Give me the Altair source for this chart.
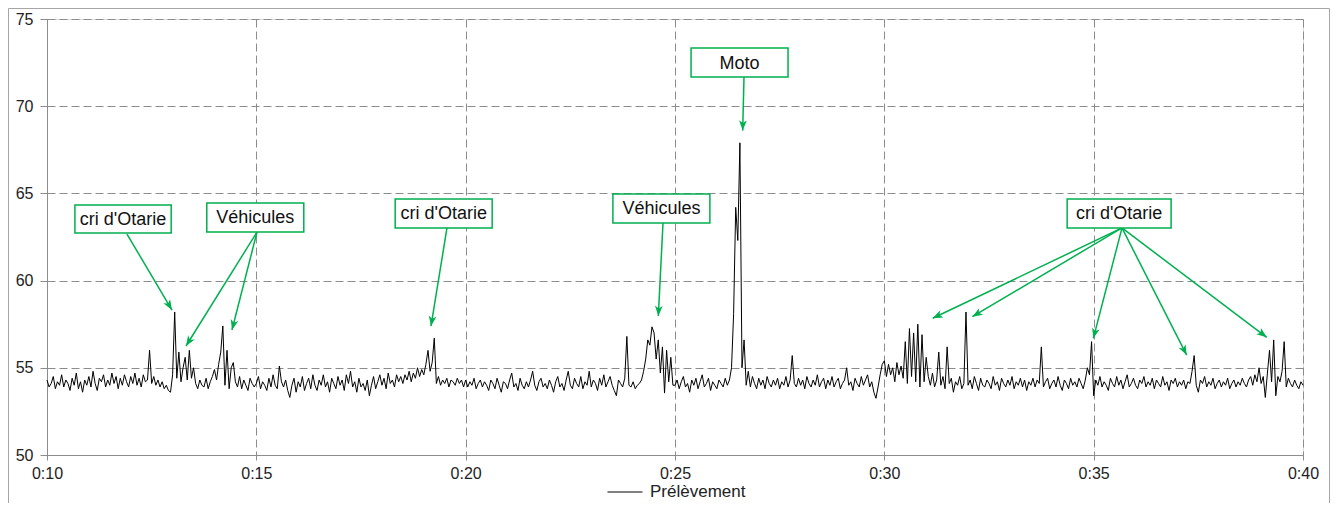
import math
import altair as alt
import pandas as pd

# ---------------- data (sampling every 3 s, time in seconds) ----------------
T_START = 600
STEP = 3

block_10_15 = [
    54.3, 53.9, 54.1, 54.5, 53.8, 54.2, 54.0, 54.6, 53.9, 54.3,
    54.1, 53.7, 54.4, 54.0, 54.7, 53.8, 54.2, 53.6, 54.3, 54.0,
    54.5, 53.9, 54.8, 54.1, 53.7, 54.4, 54.2, 54.6, 53.9, 54.3,
    54.0, 54.7, 54.1, 54.5, 53.8, 54.4, 54.0, 54.6, 54.2, 53.9,
    54.5, 54.1, 54.7, 54.0, 54.4, 53.9, 54.6, 54.2, 54.3, 56.0,
    54.1, 54.5, 54.0, 54.3, 53.9, 54.2, 53.8, 54.0, 53.7, 53.6,
    54.6, 58.2, 54.4, 55.9, 54.2, 55.0, 55.6, 54.3, 56.0, 54.4,
    55.0, 54.1, 53.8, 54.3, 54.0, 53.9, 54.4, 53.8, 54.2, 54.5,
    54.9, 54.3, 55.2, 55.9, 57.4, 54.0, 56.0, 53.8, 55.0, 55.3,
    54.2, 53.9, 54.5, 53.8, 54.3, 54.0, 53.7, 54.4, 54.1, 53.9,
]
block_15_20 = [
    54.1, 54.5, 53.8, 54.2, 54.0, 53.7, 54.4, 53.9, 54.6, 54.0,
    53.8, 55.1, 54.2, 53.9, 54.3, 53.7, 53.3, 54.0, 54.4, 53.6,
    54.2, 53.9, 54.5, 53.7, 54.1, 54.4, 53.8, 54.6, 54.0, 53.7,
    54.3, 54.0, 54.6, 53.9, 54.2, 53.6, 54.4, 54.1, 53.8, 54.5,
    54.0, 54.3, 53.7, 54.6, 54.1, 54.8, 53.9, 54.2, 53.6, 54.4,
    53.9, 54.1, 53.7, 54.3, 53.4, 54.0, 54.5, 53.8, 54.2, 54.6,
    54.0, 54.4, 53.8, 54.7, 54.1, 54.3, 53.9, 54.6, 54.2, 54.5,
    54.1, 54.6, 54.3, 54.8, 54.2, 54.7, 54.4, 55.0, 54.5, 54.9,
    54.6, 55.2, 56.0, 54.8, 55.3, 56.7, 54.1, 54.5, 54.0, 54.3,
    54.1, 54.4, 53.9, 54.3, 54.2, 54.0, 54.4, 54.1, 54.3, 53.9,
]
block_20_25 = [
    54.3, 53.9, 54.2, 54.0, 54.4, 53.8, 54.1, 54.3, 53.9, 54.2,
    54.0, 53.7, 54.3, 54.1, 53.8, 54.4, 54.0, 53.6, 54.2, 54.1,
    53.8, 54.3, 54.7, 53.9, 54.1, 53.7, 54.4, 54.0, 53.8, 54.2,
    53.9, 54.3, 54.8, 54.0, 53.7, 54.2, 54.4, 53.9, 54.1, 53.8,
    54.3, 54.0, 53.6, 54.2, 54.5, 53.9, 54.1, 53.7, 54.3, 54.8,
    54.0, 53.8, 54.4, 54.1, 53.9, 54.5, 53.8, 54.2, 54.0, 54.8,
    53.9, 54.3, 54.1, 53.7, 54.4, 54.0, 54.6, 53.9, 54.2, 54.5,
    54.0, 53.7, 53.4, 54.3, 54.1, 53.9, 54.4, 56.8, 54.0, 53.9,
    54.2, 53.8, 54.0, 54.1, 54.3, 54.8, 55.5, 56.6, 56.3, 57.35,
    57.0, 55.5, 56.6, 54.7, 56.2, 53.55, 56.0, 54.2, 55.6, 54.0,
]
block_25_30 = [
    54.0, 54.3, 53.8, 54.2, 54.5, 53.9, 54.1, 53.6, 54.3, 54.0,
    54.4, 53.8, 54.2, 54.6, 53.9, 54.1, 54.4, 53.7, 54.2, 54.0,
    53.8, 54.3, 54.1, 53.9, 54.4, 54.0, 54.3, 55.0, 58.1, 64.2,
    62.3, 67.9, 55.0, 56.6, 54.0, 54.8, 53.9, 54.5, 54.1, 53.8,
    54.4, 54.0, 54.3, 53.8, 54.5, 54.1, 53.9, 54.3, 54.0, 54.4,
    53.8, 54.2, 54.0, 54.5, 53.9, 54.3, 55.7, 54.1, 53.9, 54.4,
    54.0, 54.3, 53.8, 54.5, 54.1, 53.9, 54.3, 54.0, 54.6, 53.9,
    54.2, 54.4, 53.8, 54.3, 54.0, 54.5, 53.9, 54.2, 54.4, 53.8,
    54.1, 54.3, 55.0, 54.0, 54.2, 53.7, 54.4, 54.1, 53.9, 54.5,
    54.0, 54.3, 54.6, 53.9, 54.2, 53.6, 53.25, 53.9, 54.6, 55.2,
]
block_30_35 = [
    55.4, 54.5, 55.2, 54.6, 55.0, 54.2, 55.3, 54.6, 55.1, 54.4,
    56.5, 54.1, 57.25, 54.5, 57.0, 54.2, 57.5, 53.9, 56.9, 54.2,
    55.6, 54.5, 54.0, 54.7, 53.9, 54.3, 55.9, 54.0, 54.5, 53.8,
    56.2, 54.1, 54.4, 53.6, 54.2, 54.0, 54.5, 53.8, 54.1, 58.2,
    54.0, 54.3, 53.8, 54.5, 54.1, 53.7, 54.4, 54.0, 53.9, 54.3,
    54.1, 53.8, 54.5, 54.0, 54.2, 53.7, 54.4, 54.1, 53.9, 54.3,
    54.0, 54.5, 53.8, 54.2, 54.0, 54.4, 53.9, 54.3, 53.7, 54.2,
    54.0, 54.4, 53.9, 54.3, 54.1, 56.2, 53.9, 54.2, 54.4, 53.8,
    54.1, 54.3, 53.9, 54.5, 54.0, 53.7, 54.3, 54.1, 53.8, 54.4,
    54.0, 54.2, 53.9, 54.4, 54.1, 53.8, 54.3, 55.0, 54.6, 56.5,
]
block_35_40 = [
    53.4, 54.3, 54.0, 54.5, 53.9, 54.2, 54.0, 53.7, 54.4, 54.1,
    53.9, 54.5, 54.0, 54.3, 53.8, 54.2, 54.6, 53.9, 54.1, 54.4,
    54.0, 53.8, 54.3, 54.1, 54.5, 53.9, 54.2, 54.0, 54.4, 53.8,
    54.3, 54.1, 53.9, 54.5, 54.0, 54.2, 53.7, 54.3, 54.1, 54.4,
    53.9, 54.2, 54.0, 54.3, 53.8, 54.2, 54.1, 54.8, 55.7, 54.0,
    53.6, 54.3, 54.1, 54.5, 53.9, 54.2, 54.0, 54.4, 53.8, 54.1,
    54.3, 53.9, 54.2, 54.0, 54.4, 53.8, 54.1, 54.3, 53.9, 54.2,
    54.0, 54.4, 54.1, 53.9, 54.3, 54.5, 54.0, 54.6, 54.2, 55.0,
    54.1, 54.5, 53.3, 54.7, 56.0, 54.2, 56.6, 53.4, 54.5, 54.2,
    54.8, 56.5, 53.9, 54.4, 54.1, 53.9, 54.3, 54.0, 53.8, 54.2,
]
last_value = [54.0]

series_name = "Prélèvement"

# annotation boxes (data coordinates: seconds / level)
box_labels = ["cri d'Otarie", "Véhicules", "cri d'Otarie", "Véhicules", "Moto", "cri d'Otarie"]
box_t0 = [640, 829, 1099, 1411, 1523, 2062]
box_t1 = [778, 968, 1238, 1550, 1662, 2211]
box_v_top = [64.33, 64.45, 64.68, 64.97, 73.34, 64.68]
box_v_bottom = [62.73, 62.79, 63.02, 63.30, 71.67, 63.02]

# arrows: from the box to the event
arrow_t_from = [714.6, 901.0, 901.0, 1173.2, 1482.8, 1598.9, 2140.6, 2140.6, 2140.6, 2140.6, 2140.6]
arrow_v_from = [62.67, 62.79, 62.79, 63.02, 63.30, 71.67, 63.02, 63.02, 63.02, 63.02, 63.02]
arrow_t_to = [779.1, 799.2, 865.1, 1150.3, 1476.1, 1597.0, 1869.3, 1926.1, 2099.5, 2233.3, 2348.0]
arrow_v_to = [58.31, 56.25, 57.17, 57.39, 57.97, 68.60, 57.84, 57.93, 56.69, 55.73, 56.75]

# ---------------- tables ----------------
levels = block_10_15 + block_15_20 + block_20_25 + block_25_30 + block_30_35 + block_35_40 + last_value
times = [T_START + STEP * i for i in range(len(levels))]
df = pd.DataFrame({"t": times, "v": levels, "serie": series_name})

W, H = 1256, 436
X_MIN, X_MAX = 600, 2400
Y_MIN, Y_MAX = 50, 75
px_per_t = W / (X_MAX - X_MIN)
px_per_v = H / (Y_MAX - Y_MIN)

boxes = pd.DataFrame({
    "label": box_labels, "t0": box_t0, "t1": box_t1,
    "vt": box_v_top, "vb": box_v_bottom,
})
boxes["tc"] = (boxes["t0"] + boxes["t1"]) / 2
boxes["vc"] = (boxes["vt"] + boxes["vb"]) / 2

arrows = pd.DataFrame({
    "ta": arrow_t_from, "va": arrow_v_from,
    "tb": arrow_t_to, "vb": arrow_v_to,
})
angles = []
for ta, va, tb, vb in zip(arrow_t_from, arrow_v_from, arrow_t_to, arrow_v_to):
    dx = (tb - ta) * px_per_t
    dy = -(vb - va) * px_per_v
    angles.append(math.degrees(math.atan2(dx, -dy)) % 360)
arrows["ang"] = angles

GREEN = "#00B050"
FONT = "Liberation Sans"

xscale = alt.Scale(domain=[X_MIN, X_MAX], nice=False, zero=False)
yscale = alt.Scale(domain=[Y_MIN, Y_MAX], nice=False, zero=False)

frame = alt.Chart(alt.Data(values=[{"a": 1}])).mark_rect(
    filled=False, stroke="#a6a6a6", strokeWidth=1
).encode(
    x=alt.value(-38.5), x2=alt.value(1282.5), y=alt.value(-10.5), y2=alt.value(520)
)

line = alt.Chart(df).mark_line(strokeWidth=1, interpolate="linear").encode(
    x=alt.X("t:Q", scale=xscale, title=None,
            axis=alt.Axis(values=list(range(600, 2401, 300)),
                          labelExpr="'0:' + format(datum.value / 60, 'd')",
                          labelFlush=False, labelOverlap=False,
                          grid=True, gridDash=[8, 4], gridColor="#8c8c8c",
                          domainColor="#8c8c8c", tickColor="#8c8c8c",
                          tickSize=5, labelPadding=5, labelFontSize=16,
                          labelColor="#222222", labelFont=FONT)),
    y=alt.Y("v:Q", scale=yscale, title=None,
            axis=alt.Axis(values=[50, 55, 60, 65, 70, 75],
                          labelFlush=False, labelOverlap=False,
                          grid=True, gridDash=[8, 4], gridColor="#8c8c8c",
                          domainColor="#8c8c8c", tickColor="#8c8c8c",
                          tickSize=7, labelPadding=7, labelFontSize=16,
                          labelColor="#222222", labelFont=FONT)),
    color=alt.Color("serie:N", scale=alt.Scale(range=["#000000"]),
                    legend=alt.Legend(title=None, orient="none", legendX=560, legendY=455,
                                      symbolType="stroke", symbolSize=1225,
                                      symbolStrokeWidth=1, labelFontSize=17,
                                      labelFont=FONT, labelColor="#222222",
                                      labelOffset=7)),
)

arrow_lines = alt.Chart(arrows).mark_rule(color=GREEN, strokeWidth=1.5).encode(
    x=alt.X("ta:Q", scale=xscale), y=alt.Y("va:Q", scale=yscale),
    x2="tb:Q", y2="vb:Q",
)

arrow_heads = alt.Chart(arrows).mark_point(
    shape="M0,0L0.65,1.7L0,1.25L-0.65,1.7Z", filled=True, color=GREEN,
    size=144, opacity=1, strokeWidth=0
).encode(
    x=alt.X("tb:Q", scale=xscale), y=alt.Y("vb:Q", scale=yscale),
    angle=alt.Angle("ang:Q", scale=None),
)

box_rects = alt.Chart(boxes).mark_rect(fill="white", stroke=GREEN, strokeWidth=1.5).encode(
    x=alt.X("t0:Q", scale=xscale), x2="t1:Q",
    y=alt.Y("vt:Q", scale=yscale), y2="vb:Q",
)

box_texts = alt.Chart(boxes).mark_text(
    font=FONT, fontSize=18, color="#111111", align="center", baseline="middle", dy=1
).encode(
    x=alt.X("tc:Q", scale=xscale), y=alt.Y("vc:Q", scale=yscale), text="label:N",
)

chart = alt.layer(frame, line, arrow_lines, arrow_heads, box_rects, box_texts).properties(
    width=W, height=H,
    autosize=alt.AutoSizeParams(type="none"),
    padding={"left": 39, "top": 11, "right": 27, "bottom": 48},
).configure_view(stroke=None).configure(font=FONT)

chart.save("out.html", embed_options={"renderer": "svg", "actions": False})
